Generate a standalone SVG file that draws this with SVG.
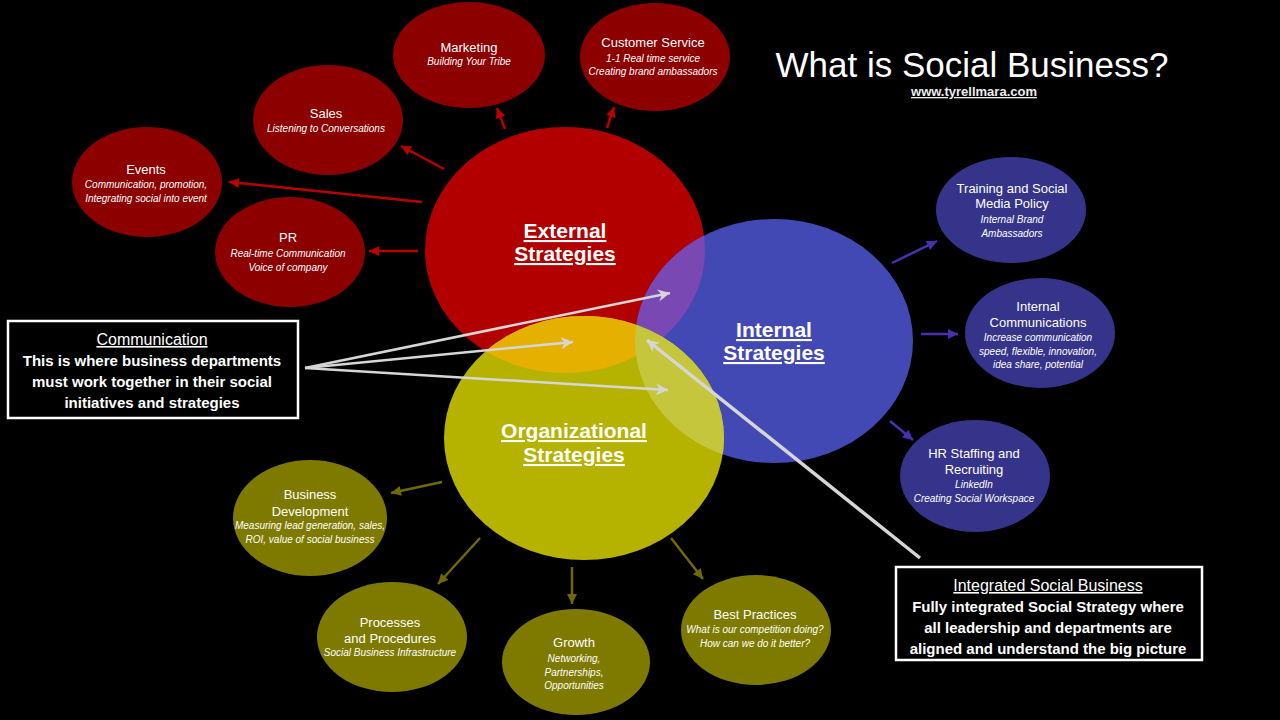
<svg xmlns="http://www.w3.org/2000/svg" width="1280" height="720" viewBox="0 0 1280 720">
<style>
text{font-family:"Liberation Sans",Arial,sans-serif;fill:#fff;text-anchor:middle}
.t{font-size:13px}
.s{font-size:10px;font-style:italic}
.big{font-size:21px;font-weight:bold;text-decoration:underline}
.box{font-size:15px;font-weight:bold}
.red{fill:#8c0000}
.blu{fill:#35338a}
.olv{fill:#7e7a00}
.ar{stroke:#bb0000;stroke-width:2.5;fill:none;marker-end:url(#mR)}
.ab{stroke:#4a30b0;stroke-width:2.5;fill:none;marker-end:url(#mB)}
.ao{stroke:#6e6a00;stroke-width:2.5;fill:none;marker-end:url(#mO)}
.aw{stroke:#d6d6d6;stroke-width:2.5;fill:none;marker-end:url(#mW)}
</style>
<defs>
<marker id="mR" viewBox="0 0 10 10" refX="10" refY="5" markerUnits="userSpaceOnUse" markerWidth="12" markerHeight="10" orient="auto"><path d="M0,0 L10,5 L0,10 z" fill="#bb0000"/></marker>
<marker id="mB" viewBox="0 0 10 10" refX="10" refY="5" markerUnits="userSpaceOnUse" markerWidth="12" markerHeight="10" orient="auto"><path d="M0,0 L10,5 L0,10 z" fill="#4a30b0"/></marker>
<marker id="mO" viewBox="0 0 10 10" refX="10" refY="5" markerUnits="userSpaceOnUse" markerWidth="12" markerHeight="10" orient="auto"><path d="M0,0 L10,5 L0,10 z" fill="#6e6a00"/></marker>
<marker id="mW" viewBox="0 0 10 10" refX="10" refY="5" markerUnits="userSpaceOnUse" markerWidth="14" markerHeight="12" orient="auto"><path d="M0,0 L10,5 L0,10 L3,5 z" fill="#d6d6d6"/></marker>
<clipPath id="cR"><ellipse cx="565" cy="250" rx="140" ry="123"/></clipPath>
<clipPath id="cB"><ellipse cx="774" cy="341" rx="139" ry="122"/></clipPath>
</defs>
<rect width="1280" height="720" fill="#000"/>

<g id="title">
<text x="972" y="77" style="font-size:35px">What is Social Business?</text>
<text x="974" y="96" style="font-size:13px;font-weight:bold;text-decoration:underline;fill:#eee">www.tyrellmara.com</text>
</g>

<g id="external">
<ellipse cx="565" cy="250" rx="140" ry="123" fill="#b20000"/>
</g>
<g id="internal">
<ellipse cx="774" cy="341" rx="139" ry="122" fill="#4349b4"/>
</g>
<g id="organizational">
<ellipse cx="584" cy="438" rx="140" ry="122" fill="#b5b200"/>
</g>
<g id="overlaps">
<ellipse cx="774" cy="341" rx="139" ry="122" fill="#7a48b2" clip-path="url(#cR)"/>
<ellipse cx="584" cy="438" rx="140" ry="122" fill="#e5b000" clip-path="url(#cR)"/>
<ellipse cx="584" cy="438" rx="140" ry="122" fill="#c6c63c" clip-path="url(#cB)"/>
</g>
<g id="central-labels">
<text class="big" x="565" y="238">External</text>
<text class="big" x="565" y="261">Strategies</text>
<text class="big" x="774" y="337">Internal</text>
<text class="big" x="774" y="360">Strategies</text>
<text class="big" x="574" y="438">Organizational</text>
<text class="big" x="574" y="462">Strategies</text>
</g>

<g id="marketing">
<ellipse class="red" cx="469" cy="55" rx="76" ry="53"/>
<text class="t" x="469" y="52">Marketing</text>
<text class="s" x="469" y="65">Building Your Tribe</text>
</g>
<g id="customer-service">
<ellipse class="red" cx="655" cy="57" rx="75" ry="54"/>
<text class="t" x="653" y="47">Customer Service</text>
<text class="s" x="653" y="62">1-1  Real time service</text>
<text class="s" x="653" y="75">Creating brand ambassadors</text>
</g>
<g id="sales">
<ellipse class="red" cx="328" cy="120" rx="75" ry="55"/>
<text class="t" x="326" y="118">Sales</text>
<text class="s" x="326" y="132">Listening to Conversations</text>
</g>
<g id="events">
<ellipse class="red" cx="147" cy="182" rx="75" ry="55"/>
<text class="t" x="146" y="174">Events</text>
<text class="s" x="146" y="188">Communication, promotion,</text>
<text class="s" x="146" y="202">Integrating social into event</text>
</g>
<g id="pr">
<ellipse class="red" cx="290" cy="252" rx="75" ry="55"/>
<text class="t" x="288" y="242">PR</text>
<text class="s" x="288" y="257">Real-time Communication</text>
<text class="s" x="288" y="271">Voice of company</text>
</g>

<g id="training">
<ellipse class="blu" cx="1011" cy="210" rx="75" ry="53"/>
<text class="t" x="1012" y="193">Training and Social</text>
<text class="t" x="1012" y="208">Media Policy</text>
<text class="s" x="1012" y="223">Internal Brand</text>
<text class="s" x="1012" y="237">Ambassadors</text>
</g>
<g id="internal-communications">
<ellipse class="blu" cx="1040" cy="333" rx="75" ry="55"/>
<text class="t" x="1038" y="311">Internal</text>
<text class="t" x="1038" y="327">Communications</text>
<text class="s" x="1038" y="341">Increase communication</text>
<text class="s" x="1038" y="355">speed, flexible, innovation,</text>
<text class="s" x="1038" y="368">idea share, potential</text>
</g>
<g id="hr">
<ellipse class="blu" cx="975" cy="476" rx="75" ry="56"/>
<text class="t" x="974" y="458">HR Staffing and</text>
<text class="t" x="974" y="474">Recruiting</text>
<text class="s" x="974" y="488">LinkedIn</text>
<text class="s" x="974" y="502">Creating Social Workspace</text>
</g>

<g id="business-development">
<ellipse class="olv" cx="310" cy="518" rx="77" ry="58"/>
<text class="t" x="310" y="499">Business</text>
<text class="t" x="310" y="516">Development</text>
<text class="s" x="310" y="529">Measuring lead generation, sales,</text>
<text class="s" x="310" y="543">ROI, value of social business</text>
</g>
<g id="processes">
<ellipse class="olv" cx="392" cy="637" rx="75" ry="55"/>
<text class="t" x="390" y="627">Processes</text>
<text class="t" x="390" y="643">and Procedures</text>
<text class="s" x="390" y="656">Social Business Infrastructure</text>
</g>
<g id="growth">
<ellipse class="olv" cx="576" cy="662" rx="74" ry="53"/>
<text class="t" x="574" y="647">Growth</text>
<text class="s" x="574" y="662">Networking,</text>
<text class="s" x="574" y="676">Partnerships,</text>
<text class="s" x="574" y="689">Opportunities</text>
</g>
<g id="best-practices">
<ellipse class="olv" cx="756" cy="630" rx="75" ry="55"/>
<text class="t" x="755" y="619">Best Practices</text>
<text class="s" x="755" y="633">What is our competition doing?</text>
<text class="s" x="755" y="647">How can we do it better?</text>
</g>

<g id="communication-box">
<rect x="8" y="321" width="290" height="97" fill="#000" stroke="#fff" stroke-width="2.5"/>
<text class="box" x="152" y="345" style="text-decoration:underline;font-weight:normal;font-size:16px">Communication</text>
<text class="box" x="152" y="366">This is where business departments</text>
<text class="box" x="152" y="387">must work together in their social</text>
<text class="box" x="152" y="408">initiatives and strategies</text>
</g>
<g id="integrated-box">
<rect x="896" y="567" width="306" height="93" fill="#000" stroke="#fff" stroke-width="2.5"/>
<text class="box" x="1048" y="591" style="text-decoration:underline;font-weight:normal;font-size:16px">Integrated Social Business</text>
<text class="box" x="1048" y="612">Fully integrated Social Strategy where</text>
<text class="box" x="1048" y="633">all leadership and departments are</text>
<text class="box" x="1048" y="654">aligned and understand the big picture</text>
</g>

<g id="connectors">
<line class="ar" x1="505" y1="129" x2="497" y2="108"/>
<line class="ar" x1="607" y1="128" x2="614" y2="107"/>
<line class="ar" x1="444" y1="169" x2="401" y2="146"/>
<line class="ar" x1="422" y1="202" x2="229" y2="182"/>
<line class="ar" x1="418" y1="251" x2="369" y2="251"/>
<line class="ab" x1="892" y1="263" x2="937" y2="241"/>
<line class="ab" x1="921" y1="334" x2="958" y2="334"/>
<line class="ab" x1="890" y1="421" x2="913" y2="440"/>
<line class="ao" x1="442" y1="482" x2="391" y2="493"/>
<line class="ao" x1="480" y1="538" x2="438" y2="584"/>
<line class="ao" x1="572" y1="567" x2="572" y2="604"/>
<line class="ao" x1="671" y1="538" x2="703" y2="579"/>
<line class="aw" x1="305" y1="368" x2="670" y2="293"/>
<line class="aw" x1="305" y1="368" x2="573" y2="342"/>
<line class="aw" x1="305" y1="368" x2="668" y2="390"/>
<line class="aw" x1="920" y1="558" x2="647" y2="340" style="stroke-width:3.5"/>
</g>
</svg>
